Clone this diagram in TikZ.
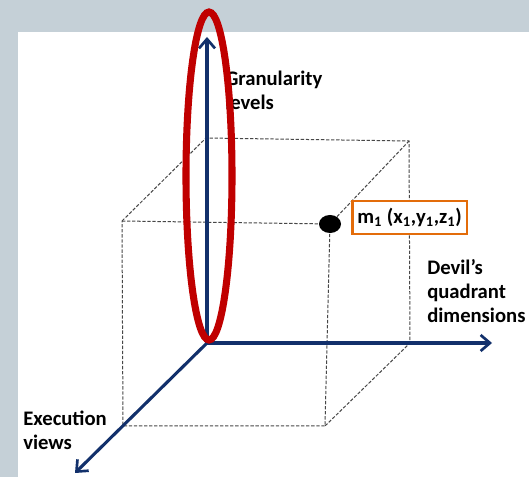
\documentclass[tikz,border=0pt]{standalone}
\usepackage{fontspec}
\setmainfont{Carlito}
\usepackage{tikz}
\usetikzlibrary{shapes.geometric, arrows.meta, positioning}
\definecolor{navy}{HTML}{12306B}
\definecolor{ringred}{HTML}{C00000}
\definecolor{slidegray}{HTML}{C5D0D7}
\definecolor{tangerine}{HTML}{E36C0A}

\tikzset{
    axis/.style={navy, line width=2.3pt, -{Straight Barb[length=7pt, width=12pt, line width=2pt]}},
    cubeedge/.style={black!72, line width=0.75pt, dash pattern=on 2.5pt off 1.3pt},
    axislabel/.style={font=\bfseries\fontsize{15.5}{18}\selectfont, align=left, inner sep=0pt, anchor=north west},
}

\begin{document}
\begin{tikzpicture}[x=0.75pt, y=-0.75pt]
    % slide background
    \fill[slidegray] (0,0) rectangle (529,477);
    \fill[white] (18,32) rectangle (529,477);
    \useasboundingbox (0,0) rectangle (529,477);

    % cube corners
    \coordinate (O)   at (207,343);
    \coordinate (ftl) at (122,221);
    \coordinate (ftr) at (330,224);
    \coordinate (fbr) at (325,426);
    \coordinate (fbl) at (123,426);
    \coordinate (btl) at (206,138);
    \coordinate (btr) at (409,141);
    \coordinate (bbr) at (410,343);

    \draw[cubeedge] (ftl) -- (ftr) -- (fbr) -- (fbl) -- cycle;
    \draw[cubeedge] (ftl) -- (btl) -- (btr) -- (bbr) -- (fbr);
    \draw[cubeedge] (ftr) -- (btr);

    % axes
    \coordinate (ztip) at (207,37);
    \coordinate (xtip) at (492,343);
    \coordinate (ytip) at (75,473);
    \draw[axis] (O) -- (ztip);
    \draw[axis] (O) -- (xtip);
    \draw[axis] (O) -- (ytip);

    \node[axislabel] (granularity) at (225,71) {Granularity\\levels};
    \node[axislabel] (devil) at (427,259) {Devil’s\\quadrant\\dimensions};
    \node[axislabel] (execution) at (23,411) {Execution\\views};

    % measured point
    \node[ellipse, fill=black, minimum width=16.5pt, minimum height=13.5pt, inner sep=0pt] (dot) at (ftr) {};
    \node[draw=tangerine, line width=1.9pt, fill=white, minimum width=86pt, minimum height=24.5pt, inner sep=2pt, font=\bfseries\fontsize{15.5}{18}\selectfont, anchor=west] (point) at (351,217.5)
        {m\textsubscript{1} (x\textsubscript{1},y\textsubscript{1},z\textsubscript{1})};

    % highlight
    \draw[ringred, line width=5.3pt] (209,176) ellipse [x radius=23, y radius=164];
\end{tikzpicture}
\end{document}
